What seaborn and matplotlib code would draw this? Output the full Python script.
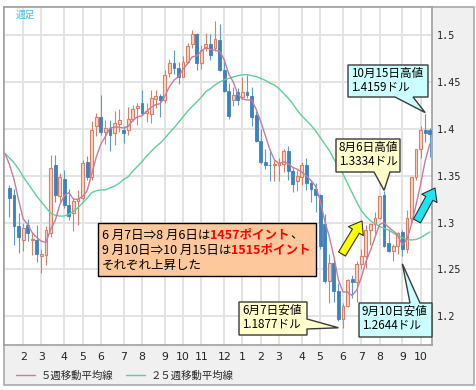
import matplotlib
matplotlib.use("Agg")
import numpy as np
import pandas as pd
import matplotlib.pyplot as plt
import seaborn as sns
from matplotlib.patches import Polygon, Rectangle, FancyArrowPatch
from matplotlib.lines import Line2D

# ---------------- data (EUR/USD weekly) ----------------
# week 0 = week of 2009-01-12, one candle per week
open_ = [1.337, 1.330, 1.296, 1.281, 1.297, 1.281, 1.281, 1.264, 1.265, 1.289,
         1.362, 1.328, 1.347, 1.319, 1.310, 1.323, 1.326, 1.365, 1.349, 1.403,
         1.413, 1.397, 1.401, 1.396, 1.405, 1.399, 1.399, 1.411, 1.422, 1.428,
         1.417, 1.416, 1.432, 1.435, 1.431, 1.460, 1.470, 1.465, 1.456, 1.472,
         1.491, 1.501, 1.470, 1.486, 1.491, 1.486, 1.495, 1.463, 1.441, 1.431,
         1.440, 1.434, 1.440, 1.435, 1.415, 1.387, 1.365, 1.362, 1.361, 1.362,
         1.363, 1.376, 1.355, 1.344, 1.349, 1.362, 1.342, 1.336, 1.329, 1.299,
         1.238, 1.257, 1.227, 1.197, 1.211, 1.240, 1.237, 1.256, 1.264, 1.292,
         1.299, 1.305, 1.330, 1.278, 1.270, 1.275, 1.290, 1.272, 1.305, 1.349,
         1.379, 1.399, 1.399]
high = [1.340, 1.336, 1.310, 1.300, 1.304, 1.290, 1.297, 1.272, 1.296, 1.372,
        1.372, 1.353, 1.356, 1.336, 1.326, 1.335, 1.367, 1.371, 1.408, 1.417,
        1.436, 1.410, 1.410, 1.419, 1.421, 1.403, 1.424, 1.426, 1.428, 1.442,
        1.428, 1.442, 1.442, 1.437, 1.463, 1.475, 1.484, 1.472, 1.478, 1.492,
        1.506, 1.502, 1.490, 1.503, 1.501, 1.515, 1.512, 1.475, 1.449, 1.445,
        1.444, 1.456, 1.458, 1.445, 1.419, 1.400, 1.379, 1.378, 1.368, 1.369,
        1.379, 1.382, 1.358, 1.356, 1.365, 1.369, 1.345, 1.342, 1.331, 1.309,
        1.267, 1.260, 1.235, 1.214, 1.240, 1.244, 1.259, 1.272, 1.297, 1.300,
        1.311, 1.328, 1.3334, 1.293, 1.277, 1.290, 1.292, 1.313, 1.349, 1.379,
        1.403, 1.4159, 1.401]
low = [1.306, 1.276, 1.268, 1.270, 1.280, 1.265, 1.258, 1.246, 1.255, 1.285,
       1.322, 1.322, 1.316, 1.303, 1.291, 1.297, 1.324, 1.346, 1.346, 1.392,
       1.394, 1.384, 1.376, 1.383, 1.397, 1.385, 1.394, 1.408, 1.404, 1.415,
       1.407, 1.406, 1.422, 1.413, 1.428, 1.455, 1.459, 1.448, 1.455, 1.470,
       1.486, 1.463, 1.464, 1.483, 1.474, 1.483, 1.462, 1.440, 1.411, 1.425,
       1.426, 1.432, 1.433, 1.403, 1.386, 1.363, 1.357, 1.344, 1.344, 1.344,
       1.354, 1.346, 1.333, 1.334, 1.340, 1.335, 1.322, 1.311, 1.272, 1.236,
       1.214, 1.215, 1.195, 1.1877, 1.210, 1.220, 1.215, 1.250, 1.252, 1.276,
       1.288, 1.304, 1.274, 1.269, 1.259, 1.266, 1.2644, 1.268, 1.300, 1.345,
       1.369, 1.386, 1.370]
close = [1.326, 1.296, 1.285, 1.294, 1.289, 1.283, 1.267, 1.266, 1.292, 1.358,
         1.329, 1.349, 1.319, 1.307, 1.323, 1.325, 1.364, 1.349, 1.399, 1.413,
         1.397, 1.401, 1.394, 1.406, 1.410, 1.396, 1.411, 1.421, 1.425, 1.417,
         1.419, 1.433, 1.435, 1.431, 1.458, 1.470, 1.465, 1.456, 1.472, 1.489,
         1.501, 1.470, 1.484, 1.491, 1.479, 1.496, 1.463, 1.441, 1.414, 1.436,
         1.431, 1.440, 1.436, 1.413, 1.387, 1.365, 1.362, 1.361, 1.362, 1.363,
         1.376, 1.355, 1.341, 1.350, 1.362, 1.342, 1.336, 1.329, 1.275, 1.238,
         1.257, 1.227, 1.197, 1.211, 1.239, 1.237, 1.256, 1.264, 1.292, 1.299,
         1.305, 1.328, 1.275, 1.270, 1.275, 1.289, 1.272, 1.305, 1.349, 1.379,
         1.399, 1.396, 1.395]

# moving averages (first value = week before the first candle)
ma5 = [1.374, 1.362, 1.346, 1.324, 1.304, 1.298, 1.289, 1.284, 1.280, 1.279,
       1.293, 1.302, 1.319, 1.329, 1.332, 1.325, 1.325, 1.328, 1.334, 1.352,
       1.370, 1.384, 1.392, 1.401, 1.402, 1.402, 1.401, 1.403, 1.409, 1.413,
       1.414, 1.419, 1.423, 1.426, 1.427, 1.435, 1.445, 1.452, 1.456, 1.464,
       1.470, 1.477, 1.478, 1.483, 1.487, 1.485, 1.484, 1.483, 1.474, 1.459,
       1.450, 1.437, 1.432, 1.431, 1.431, 1.421, 1.408, 1.393, 1.378, 1.367,
       1.363, 1.365, 1.363, 1.359, 1.357, 1.354, 1.350, 1.345, 1.339, 1.324,
       1.302, 1.285, 1.264, 1.239, 1.226, 1.226, 1.222, 1.228, 1.241, 1.258,
       1.270, 1.284, 1.298, 1.300, 1.295, 1.291, 1.287, 1.276, 1.282, 1.298,
       1.319, 1.341, 1.366, 1.384]
ma25 = [1.374, 1.369, 1.364, 1.357, 1.349, 1.342, 1.335, 1.328, 1.322, 1.316,
        1.310, 1.308, 1.307, 1.307, 1.309, 1.312, 1.316, 1.321, 1.326, 1.332,
        1.334, 1.335, 1.335, 1.337, 1.339, 1.342, 1.346, 1.349, 1.355, 1.360,
        1.365, 1.371, 1.376, 1.381, 1.385, 1.390, 1.396, 1.401, 1.407, 1.413,
        1.419, 1.424, 1.429, 1.434, 1.440, 1.443, 1.447, 1.450, 1.4525, 1.454,
        1.4555, 1.457, 1.4578, 1.458, 1.457, 1.456, 1.454, 1.452, 1.449, 1.447,
        1.443, 1.438, 1.433, 1.427, 1.420, 1.414, 1.409, 1.404, 1.398, 1.391,
        1.384, 1.377, 1.368, 1.360, 1.352, 1.342, 1.332, 1.322, 1.313, 1.307,
        1.302, 1.299, 1.296, 1.294, 1.292, 1.289, 1.286, 1.284, 1.282, 1.2815,
        1.282, 1.284, 1.287, 1.290]

month_ticks = [3, 7, 12, 16, 20, 25, 29, 34, 38, 42, 47, 51, 55, 59, 64, 68, 73, 77, 81, 86, 90]
month_labels = ['2', '3', '4', '5', '6', '7', '8', '9', '10', '11', '12',
                '1', '2', '3', '4', '5', '6', '7', '8', '9', '10']
y_ticks = [1.2, 1.25, 1.3, 1.35, 1.4, 1.45, 1.5]
y_labels = ['1.2', '1.25', '1.3', '1.35', '1.4', '1.45', '1.5']

# ---------------- style ----------------
sns.set_theme(style="white")
plt.rcParams['font.family'] = ['Noto Sans CJK JP', 'DejaVu Sans']

W, H = 477, 390
UP_FACE, UP_EDGE = '#f9d4c4', '#e27c62'
DN_COLOR, DN_WICK = '#3b82bf', '#5c9bd2'
MA5_COLOR, MA25_COLOR = '#c97b9b', '#5fce9b'

fig = plt.figure(figsize=(W / 100, H / 100), dpi=100, facecolor='white')
# outer grey panel
fig.patches.append(Rectangle((4 / W, 1 - 385 / H), 470 / W, (385 - 6.5) / H,
                             transform=fig.transFigure, fc='#f0f0f0', ec='#a8a8a8', lw=1.2, zorder=-10))

AX_L, AX_R, AX_T, AX_B = 4, 432.5, 6.5, 345
ax = fig.add_axes([AX_L / W, 1 - AX_B / H, (AX_R - AX_L) / W, (AX_B - AX_T) / H])
ax.set_zorder(1)
ax.set_facecolor('white')
ax.set_xlim(-1.2, 92.6)
ax.set_ylim(1.1693, 1.5308)

df = pd.DataFrame({'o': open_, 'h': high, 'l': low, 'c': close})
df['week'] = np.arange(len(df))
up = df[df['c'] >= df['o']]
dn = df[df['c'] < df['o']]

ax.vlines(up['week'], up['l'], up['h'], color=UP_EDGE, lw=0.8, zorder=2)
ax.vlines(dn['week'], dn['l'], dn['h'], color=DN_WICK, lw=0.8, zorder=2)
ax.bar(up['week'], np.maximum(up['c'] - up['o'], 0.0012), bottom=up['o'], width=0.62,
       color=UP_FACE, edgecolor=UP_EDGE, lw=0.8, zorder=3)
ax.bar(dn['week'], dn['o'] - dn['c'], bottom=dn['c'], width=0.62,
       color=DN_COLOR, edgecolor=DN_COLOR, lw=0.6, zorder=3)

ma = pd.DataFrame({'week': np.arange(-1, len(ma5) - 1), 'ma5': ma5, 'ma25': ma25})
sns.lineplot(data=ma, x='week', y='ma25', ax=ax, color=MA25_COLOR, lw=1.0, zorder=4)
sns.lineplot(data=ma, x='week', y='ma5', ax=ax, color=MA5_COLOR, lw=1.0, zorder=4)

# axes / grid
ax.set_xticks(month_ticks)
ax.set_xticklabels(month_labels, fontsize=7.8, family=['DejaVu Sans'])
ax.set_yticks(y_ticks)
ax.set_yticklabels(y_labels, fontsize=7.3, family=['DejaVu Sans Mono'])
ax.yaxis.tick_right()
ax.tick_params(axis='both', length=0, colors='#222222')
ax.tick_params(axis='x', pad=5)
ax.tick_params(axis='y', pad=3)
ax.set_xlabel('')
ax.set_ylabel('')
ax.grid(True, color='#e3e3e3', lw=1.4, zorder=0)
ax.set_axisbelow(True)
for s in ax.spines.values():
    s.set_color('#a0a0a0')
    s.set_linewidth(1.2)

ax.text(12 / (AX_R - AX_L), 1 - (15 - AX_T) / (AX_B - AX_T), '週足', transform=ax.transAxes,
        fontsize=7, color='#3cbff0', va='center', ha='left')


def px(x, y):
    """image pixel -> axes fraction"""
    return (x - AX_L) / (AX_R - AX_L), (AX_B - y) / (AX_B - AX_T)


def bubble(box, side, a, b, tip, text, fc):
    x0, y0 = px(box[0], box[3])
    x1, y1 = px(box[2], box[1])
    tx, ty = ax.transAxes.inverted().transform(ax.transData.transform(tip))
    if side == 'bottom':
        a, b = px(a, 0)[0], px(b, 0)[0]
        verts = [(x0, y1), (x1, y1), (x1, y0), (b, y0), (tx, ty), (a, y0), (x0, y0)]
    elif side == 'top':
        a, b = px(a, 0)[0], px(b, 0)[0]
        verts = [(x0, y1), (a, y1), (tx, ty), (b, y1), (x1, y1), (x1, y0), (x0, y0)]
    else:  # right
        a, b = px(0, a)[1], px(0, b)[1]
        verts = [(x0, y1), (x1, y1), (x1, a), (tx, ty), (x1, b), (x1, y0), (x0, y0)]
    ax.add_patch(Polygon(verts, closed=True, transform=ax.transAxes, fc=fc, ec='#3a3a3a',
                         lw=1.0, zorder=6, clip_on=False, joinstyle='miter'))
    tx0, ty0 = px(box[0] + 3, box[1] + 2)
    ax.text(tx0, ty0, text, transform=ax.transAxes, ha='left', va='top', fontsize=8.4,
            linespacing=1.05, color='black', zorder=7, clip_on=False)


bubble((348, 65, 428, 97), 'bottom', 395, 413, (91, 1.4175), '10月15日高値\n1.4159ドル', '#ccffff')
bubble((336, 139, 400, 172), 'bottom', 374, 390, (82, 1.3345), '8月6日高値\n1.3334ドル', '#ffffcc')
bubble((239, 302, 307, 335), 'right', 319, 329, (72.0, 1.1877), '6月7日安値\n1.1877ドル', '#ffffcc')
bubble((359, 303, 432, 337), 'top', 410, 420, (86, 1.256), '9月10日安値\n1.2644ドル', '#ccffff')

# fat arrows
for (x0, y0, x1, y1, col) in [(342, 254, 362, 221, '#ffff00'), (417, 221, 435, 188, '#1ee3f0')]:
    arr = FancyArrowPatch(px(x0, y0), px(x1, y1), transform=ax.transAxes,
                          arrowstyle='simple,head_width=12.5,head_length=8.5,tail_width=5.8',
                          mutation_scale=1, fc=col, ec='#303030', lw=0.8,
                          shrinkA=0, shrinkB=0, zorder=6, clip_on=False)
    ax.add_patch(arr)

# orange comment box
bx0, by0 = px(98, 276)
bx1, by1 = px(316, 223)
ax.add_patch(Rectangle((bx0, by0), bx1 - bx0, by1 - by0, transform=ax.transAxes,
                       fc='#fdc99c', ec='black', lw=1.0, zorder=6))

fig.canvas.draw()
renderer = fig.canvas.get_renderer()


def runs(x, y, parts):
    for s, col, wt in parts:
        t = fig.text(x / W, 1 - y / H, s, color=col, fontweight=wt, fontsize=9.0,
                     ha='left', va='center', zorder=8)
        x += t.get_window_extent(renderer).width


runs(102, 235, [('6 月7日⇒8 月6日は', 'black', 'normal'), ('1457ポイント', '#ff0000', 'bold'),
                ('、', 'black', 'normal')])
runs(102, 250, [('9 月10日⇒10 月15日は', 'black', 'normal'), ('1515ポイント', '#ff0000', 'bold')])
runs(102, 265, [('それぞれ上昇した', 'black', 'normal')])

# legend
handles = [Line2D([], [], color=MA5_COLOR, lw=1.0), Line2D([], [], color=MA25_COLOR, lw=1.0)]
fig.legend(handles, ['５週移動平均線', '２５週移動平均線'], loc='center left',
           bbox_to_anchor=(12 / W, 1 - 376 / H), ncol=2, frameon=False, fontsize=7.5,
           handlelength=1.8, handletextpad=0.6, columnspacing=1.15, borderaxespad=0)

fig.savefig('out.png', dpi=100, facecolor=fig.get_facecolor())
